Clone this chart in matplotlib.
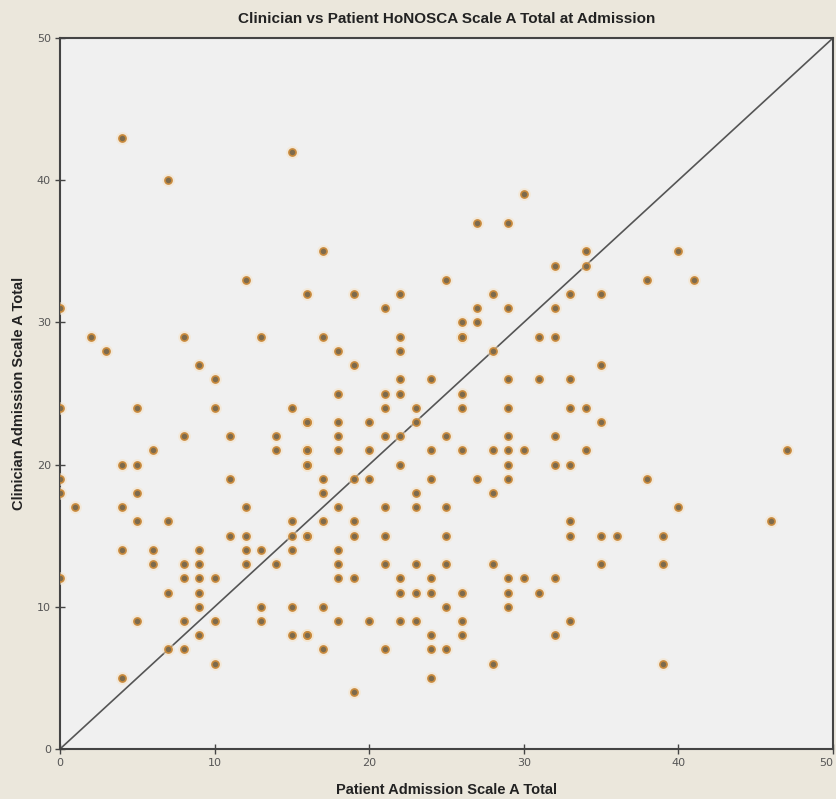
import matplotlib
matplotlib.use("Agg")
import matplotlib.pyplot as plt

# patient (x) vs clinician (y) admission scale A totals
patient = [4, 7, 15, 0, 2, 3, 8, 13, 12, 16, 17, 19, 22, 25, 27, 29, 30,
           28, 21, 26, 27, 29, 26, 27, 17, 22, 26, 31, 32, 32, 32, 18, 22, 28,
           34, 34, 40, 38, 41, 33, 35,
           9, 10, 0, 5, 10, 15, 16, 8, 11, 14, 6, 14, 16, 4, 5, 16, 0, 11, 0, 5,
           1, 4, 12, 5, 7, 15, 11, 12, 15, 16, 4, 6, 9, 12, 13, 15,
           19, 22, 24, 29, 31, 18, 21, 22, 26, 21, 23, 26, 29, 16, 18, 20, 23,
           18, 21, 22, 25, 29, 32, 16, 18, 20, 24, 26, 28, 29, 30, 16, 22, 29, 32,
           17, 19, 20, 24, 27, 29, 17, 23, 28, 18, 21, 23, 25, 17, 19, 16, 19, 21,
           25, 18,
           35, 33, 33, 34, 35, 34, 47, 33, 38, 40, 33, 46, 33, 35, 36, 39,
           6, 8, 9, 12, 14, 0, 8, 9, 10, 7, 9, 9, 13, 15, 5, 8, 10, 13, 9, 15, 16,
           7, 8, 10, 4,
           18, 21, 23, 25, 28, 18, 19, 22, 24, 29, 30, 32, 22, 23, 24, 26, 29, 31,
           17, 25, 29, 18, 20, 22, 23, 26, 16, 24, 26, 32, 17, 21, 24, 25, 28, 24,
           19,
           35, 39, 33, 39]
clinician = [43, 40, 42, 31, 29, 28, 29, 29, 33, 32, 35, 32, 32, 33, 37, 37, 39,
             32, 31, 30, 30, 31, 29, 31, 29, 29, 29, 29, 29, 34, 31, 28, 28, 28,
             35, 34, 35, 33, 33, 32, 32,
             27, 26, 24, 24, 24, 24, 23, 22, 22, 22, 21, 21, 21, 20, 20, 20, 19, 19,
             18, 18, 17, 17, 17, 16, 16, 16, 15, 15, 15, 15, 14, 14, 14, 14, 14, 14,
             27, 26, 26, 26, 26, 25, 25, 25, 25, 24, 24, 24, 24, 23, 23, 23, 23,
             22, 22, 22, 22, 22, 22, 21, 21, 21, 21, 21, 21, 21, 21, 20, 20, 20, 20,
             19, 19, 19, 19, 19, 19, 18, 18, 18, 17, 17, 17, 17, 16, 16, 15, 15, 15,
             15, 14,
             27, 26, 24, 24, 23, 21, 21, 20, 19, 17, 16, 16, 15, 15, 15, 15,
             13, 13, 13, 13, 13, 12, 12, 12, 12, 11, 11, 10, 10, 10, 9, 9, 9, 9, 8,
             8, 8, 7, 7, 6, 5,
             13, 13, 13, 13, 13, 12, 12, 12, 12, 12, 12, 12, 11, 11, 11, 11, 11, 11,
             10, 10, 10, 9, 9, 9, 9, 9, 8, 8, 8, 8, 7, 7, 7, 7, 6, 5,
             4,
             13, 13, 9, 6]

ticks = [0, 10, 20, 30, 40, 50]

fig = plt.figure(figsize=(8.37, 7.99), dpi=100)
fig.patch.set_facecolor("#ebe7dc")
ax = fig.add_axes([0.0717, 0.0626, 0.9235, 0.8898])
ax.set_facecolor("#f0f0f0")

# reference line y = x
ax.plot([0, 50], [0, 50], color="#555555", lw=1.2, zorder=2)

# soft halo + marker, SPSS style
ax.scatter(patient, clinician, s=85, color="#f6e2c4", alpha=0.5,
           linewidths=0, zorder=3)
ax.scatter(patient, clinician, s=26, facecolor="#7d6a4c", edgecolor="#c98a3c",
           linewidths=1.2, zorder=4)

ax.set_xlim(0, 50)
ax.set_ylim(0, 50)
ax.set_xticks(ticks)
ax.set_yticks(ticks)
ax.tick_params(direction="inout", length=7, width=1, colors="#444444",
               labelsize=8, labelcolor="#555555", pad=3)
# keep the last x label inside the figure
ax.get_xticklabels()[-1].set_horizontalalignment("right")
for s in ax.spines.values():
    s.set_color("#444444")
    s.set_linewidth(1.5)

ax.set_title("Clinician vs Patient HoNOSCA Scale A Total at Admission",
             fontsize=11, fontweight="bold", family="Liberation Sans",
             color="#222222", pad=11)
ax.set_xlabel("Patient Admission Scale A Total", fontsize=10.5,
              fontweight="bold", family="Liberation Sans", color="#222222",
              labelpad=11)
ax.set_ylabel("Clinician Admission Scale A Total", fontsize=10.5,
              fontweight="bold", family="Liberation Sans", color="#222222",
              labelpad=8)

fig.savefig("out.png", dpi=100, facecolor=fig.get_facecolor())
